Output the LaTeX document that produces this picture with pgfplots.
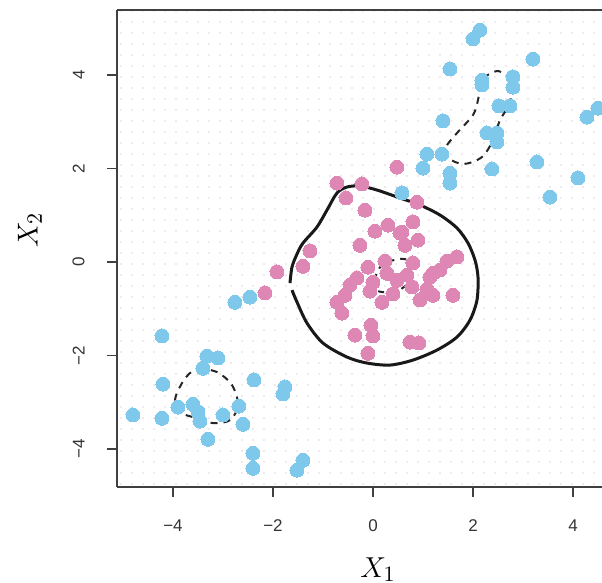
\documentclass[border=0pt]{standalone}
\usepackage{fontspec}
\setmainfont{Liberation Sans}
\usepackage{pgfplots}
\pgfplotsset{compat=1.18}
\usetikzlibrary{patterns.meta,calc}
\definecolor{ptblue}{RGB}{125,200,235}
\definecolor{ptpink}{RGB}{222,135,180}
\definecolor{gdot}{RGB}{222,212,218}
\begin{document}
\begin{tikzpicture}
\begin{axis}[
  scale only axis, width=242.5pt, height=238.5pt,
  xmin=-5.12, xmax=4.58, ymin=-4.81, ymax=5.39,
  axis x line*=bottom, axis y line*=left,
  axis line style={black!75, line width=0.8pt},
  tick style={black!75, line width=0.8pt},
  tick align=outside, major tick length=5pt,
  xtick={-4,-2,0,2,4}, xticklabels={−4,−2,0,2,4},
  ytick={-4,-2,0,2,4}, yticklabels={−4,−2,0,2,4},
  ticklabel style={font=\fontsize{8.5}{10}\selectfont, text=black!80},
  xticklabel style={anchor=north, inner sep=0pt},
  yticklabel style={rotate=90, anchor=south, inner sep=0pt},
  xticklabel shift=11pt, yticklabel shift=11pt,
]
\coordinate (sw) at (rel axis cs:0,0);
\coordinate (ne) at (rel axis cs:1,1);
\coordinate (nw) at (rel axis cs:0,1);
\fill[pattern={Dots[distance=5.5pt, radius=0.45pt]}, pattern color=gdot] (rel axis cs:0,0) rectangle (rel axis cs:1,1);
% blue observations
\addplot[only marks, ptblue, mark=*, mark size=3.5pt, mark options={draw=ptblue, fill=ptblue, line width=0pt}] coordinates {
(2.14,4.96) (2.0,4.77) (3.2,4.34) (1.54,4.13) (2.18,3.89) (2.18,3.79) (2.8,3.96) (2.8,3.74)
(2.52,3.34) (2.74,3.34) (1.4,3.02) (2.28,2.76) (2.48,2.76) (2.48,2.57) (1.08,2.31) (1.38,2.31)
(1.0,2.01) (1.54,1.90) (1.54,1.69) (2.38,1.99) (3.28,2.14) (4.1,1.80) (3.54,1.39) (4.28,3.10)
(4.5,3.29) (0.58,1.48)
(-2.76,-0.86) (-2.46,-0.75) (-4.22,-1.58) (-3.32,-2.01) (-3.1,-2.05) (-3.4,-2.27) (-4.2,-2.61)
(-2.38,-2.52) (-1.76,-2.67) (-1.8,-2.82) (-3.9,-3.1) (-3.6,-3.04) (-3.5,-3.2) (-3.46,-3.4)
(-3.0,-3.27) (-2.68,-3.08) (-2.6,-3.47) (-4.8,-3.27) (-4.22,-3.34) (-3.3,-3.79) (-2.4,-4.09)
(-2.4,-4.41) (-1.52,-4.45) (-1.4,-4.24)
};
% pink observations
\addplot[only marks, ptpink, mark=*, mark size=3.5pt, mark options={draw=ptpink, fill=ptpink, line width=0pt}] coordinates {
(-0.72,1.69) (-0.22,1.67) (-0.54,1.37) (-0.16,1.11) (0.48,2.03) (0.88,1.28) (0.04,0.66)
(0.80,0.86) (0.58,0.64) (0.64,0.36) (0.90,0.47) (-1.26,0.24) (-1.40,-0.09) (-1.92,-0.21)
(-2.16,-0.66) (-0.10,-0.11) (0.24,0.02) (0.80,-0.02) (1.48,0.02) (1.68,0.11) (-0.32,-0.34)
(0.00,-0.43) (0.48,-0.39) (0.68,-0.28) (1.14,-0.32) (1.08,-0.58) (-0.06,-0.62) (0.40,-0.68)
(0.78,-0.53) (1.20,-0.71) (-0.56,-0.71) (-0.72,-0.86) (-0.62,-1.09) (1.60,-0.71) (-0.04,-1.35)
(0.00,-1.58) (-0.36,-1.56) (0.74,-1.71) (0.92,-1.73) (-0.10,-1.95) (0.28,-0.24) (0.54,0.62)
(1.20,-0.24) (-0.46,-0.49) (0.18,-0.86) (0.94,-0.81) (-0.26,0.36) (1.34,-0.17) (0.30,0.79)
};
% solid boundary
\addplot[black!90, line width=1.5pt, smooth, tension=0.5] coordinates {
(-1.66,-0.45) (-1.62,-0.107) (-1.52,0.171) (-1.40,0.406) (-1.12,0.749) (-0.92,1.112)
(-0.72,1.476) (-0.52,1.604) (-0.26,1.626) (0.08,1.540) (0.54,1.369) (0.94,1.219)
(1.34,1.005) (1.68,0.727) (1.90,0.406) (2.04,0.043) (2.10,-0.321) (2.08,-0.813)
(1.94,-1.241) (1.68,-1.604) (1.28,-1.882) (0.80,-2.096) (0.34,-2.203) (-0.12,-2.160)
(-0.52,-2.032) (-1.00,-1.733) (-1.32,-1.305) (-1.52,-0.856) (-1.62,-0.60)
};
% dashed margins
\addplot[black!85, line width=1pt, dash pattern=on 3.5pt off 3pt, smooth, tension=0.55] coordinates {
(2.20,3.936) (2.50,4.086) (2.76,3.893) (2.80,3.636) (2.70,3.316) (2.54,3.037) (2.40,2.610)
(2.18,2.246) (1.80,2.096) (1.48,2.246) (1.46,2.460) (1.68,2.759) (2.00,3.144) (2.10,3.465)
(2.14,3.743) (2.20,3.936)
};
\addplot[black!85, line width=1pt, dash pattern=on 3.5pt off 3pt, smooth, tension=0.55] coordinates {
(-3.50,-2.267) (-3.12,-2.353) (-2.82,-2.631) (-2.70,-3.059) (-2.86,-3.380) (-3.20,-3.444)
(-3.52,-3.337) (-3.82,-3.230) (-3.96,-2.952) (-3.82,-2.588) (-3.66,-2.374) (-3.50,-2.267)
};
\addplot[black!85, line width=1pt, dash pattern=on 3pt off 3pt, smooth, tension=0.55] coordinates {
(0.04,-0.385) (0.10,-0.620) (0.48,-0.620) (0.76,-0.385) (0.78,-0.128) (0.64,0.064)
(0.28,0.000) (0.10,-0.171) (0.04,-0.385)
};
\end{axis}
\draw[black!75, line width=0.8pt] (nw) -- (ne);
\node[anchor=north, inner sep=0pt, font=\fontsize{15}{18}\selectfont] at ($(sw)+(130.5pt,-35pt)$) {$X_1$};
\node[rotate=90, inner sep=0pt, font=\fontsize{15}{18}\selectfont] at ($(sw)+(-43.5pt,128.5pt)$) {$X_2$};
\pgfresetboundingbox
\path ($(sw)+(-58.5pt,-48pt)$) rectangle ($(ne)+(0,5pt)$);
\end{tikzpicture}
\end{document}
